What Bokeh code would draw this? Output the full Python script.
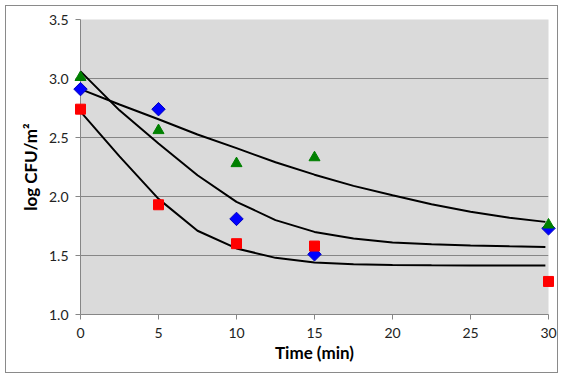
from bokeh.plotting import figure
from bokeh.models import Range1d, FixedTicker, NumeralTickFormatter, Title
from bokeh.embed import file_html
from bokeh.resources import INLINE

# ---- data ----
time_min = [0, 5, 10, 15, 30]
green_triangles = [3.01, 2.56, 2.28, 2.33, 1.76]
blue_diamonds = [2.91, 2.74, 1.81, 1.51, 1.73]
red_squares = [2.74, 1.93, 1.60, 1.58, 1.28]

curve_time = [0, 2.5, 5, 7.5, 10, 12.5, 15, 17.5, 20, 22.5, 25, 27.5, 29.8]
curve_upper = [2.91, 2.78, 2.655, 2.525, 2.41, 2.29, 2.185, 2.09, 2.01, 1.935, 1.87, 1.82, 1.785]
curve_middle = [3.06, 2.73, 2.45, 2.18, 1.955, 1.80, 1.70, 1.645, 1.61, 1.595, 1.585, 1.578, 1.573]
curve_lower = [2.72, 2.34, 1.98, 1.71, 1.56, 1.48, 1.44, 1.425, 1.42, 1.417, 1.415, 1.415, 1.415]

x_ticks = [0, 5, 10, 15, 20, 25, 30]
y_ticks = [1.0, 1.5, 2.0, 2.5, 3.0, 3.5]
x_limits = (0, 30)
y_limits = (1.0, 3.5)

FONT = "Lato"
AXIS_GRAY = "#868686"

p = figure(
    frame_width=468, frame_height=295,
    x_range=Range1d(*x_limits),
    y_range=Range1d(*y_limits),
    output_backend="svg", toolbar_location=None,
    min_border_left=74, min_border_right=9, min_border_top=13, min_border_bottom=58,
    background_fill_color="#DADADA", border_fill_color="white",
)
p.outline_line_color = None
p.styles = {"margin-left": "5px", "margin-top": "5px", "border": "1px solid #8a8a8a"}

p.xgrid.visible = False
p.ygrid.ticker = FixedTicker(ticks=y_ticks)
p.ygrid.grid_line_color = AXIS_GRAY
p.ygrid.grid_line_width = 1

# curves
for c in (curve_upper, curve_middle, curve_lower):
    p.line(curve_time, c, line_color="black", line_width=2)

# markers (overlay level so edge markers are not cut by the frame)
p.scatter(time_min, blue_diamonds, marker="square", angle=0.7853981634, size=9.5,
          fill_color="#0000FF", line_color="#0000C0", level="overlay")
p.scatter(time_min, red_squares, marker="square", size=10, fill_color="#FF0000",
          line_color="#FF0000", level="overlay")
p.scatter(time_min, green_triangles, marker="triangle", size=11, fill_color="#008000",
          line_color="#008000", level="overlay")

# axes
for ax in (p.xaxis[0], p.yaxis[0]):
    ax.axis_line_color = AXIS_GRAY
    ax.major_tick_line_color = AXIS_GRAY
    ax.major_tick_in = 0
    ax.major_tick_out = 5
    ax.minor_tick_line_color = None
    ax.major_label_text_font = FONT
    ax.major_label_text_font_size = "14px"
    ax.major_label_text_color = "#222222"
    ax.axis_label_text_font = FONT
    ax.axis_label_text_font_style = "bold"
    ax.axis_label_text_font_size = "17px"
    ax.axis_label_text_color = "black"

p.xaxis.ticker = FixedTicker(ticks=x_ticks)
p.xaxis.major_label_standoff = 8
p.xaxis.axis_label = "Time (min)"
p.xaxis.axis_label_standoff = 1

p.yaxis.ticker = FixedTicker(ticks=y_ticks)
p.yaxis.formatter = NumeralTickFormatter(format="0.0")
p.yaxis.major_label_standoff = 7

p.add_layout(Title(text="log CFU/m²", align="center", offset=10, text_font=FONT,
                   text_font_size="17px", text_font_style="bold", text_color="black"), "left")

open("out.html", "w").write(file_html(p, INLINE))
